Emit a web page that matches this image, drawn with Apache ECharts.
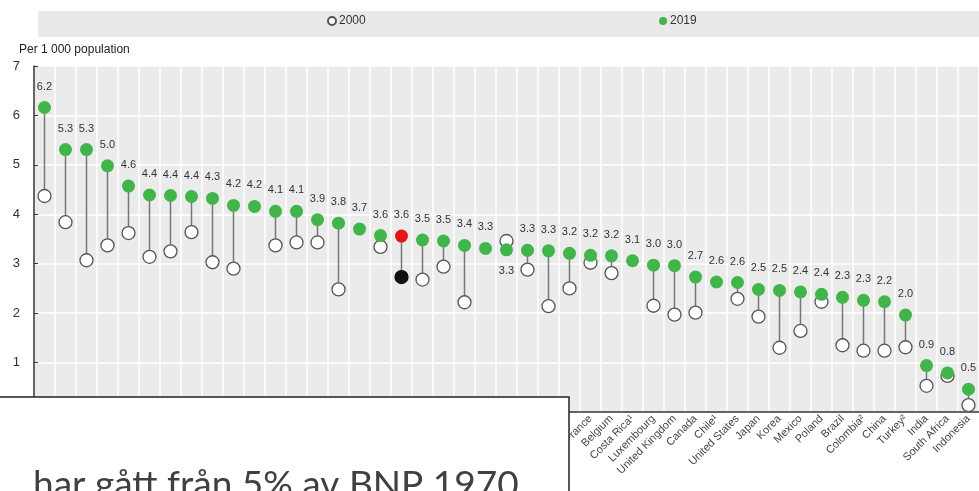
<!DOCTYPE html>
<html>
<head>
<meta charset="utf-8">
<script src="https://cdn.jsdelivr.net/npm/echarts@6/dist/echarts.min.js"></script>
<style>
  html, body { margin: 0; padding: 0; background: #fff; }
  #main { width: 979px; height: 491px; }
</style>
</head>
<body>
<div id="main"></div>
<script>
// länder (de flesta döljs under textrutan nere till vänster)
const countries = [
  'Greece¹', 'Portugal¹', 'Austria', 'Norway', 'Lithuania', 'Spain', 'Germany', 'Switzerland',
  'Sweden', 'Denmark', 'Russia', 'Czech Republic', 'Italy', 'Iceland', 'Australia', 'Latvia',
  'Israel', 'OECD36', 'Estonia', 'Finland', 'Ireland', 'Slovenia', 'Hungary', 'New Zealand',
  'Slovak Republic', 'Netherlands²', 'France', 'Belgium', 'Costa Rica¹', 'Luxembourg',
  'United Kingdom', 'Canada', 'Chile¹', 'United States', 'Japan', 'Korea', 'Mexico', 'Poland',
  'Brazil', 'Colombia²', 'China', 'Turkey²', 'India', 'South Africa', 'Indonesia'
]
const v2019 = [
  6.16, 5.31, 5.31, 4.98, 4.57, 4.39, 4.38, 4.36, 4.32, 4.18, 4.16, 4.06, 4.06, 3.89, 3.82,
  3.70, 3.57, 3.56, 3.48, 3.46, 3.37, 3.31, 3.28, 3.27, 3.26, 3.21, 3.17, 3.16, 3.06, 2.97,
  2.96, 2.73, 2.63, 2.62, 2.48, 2.46, 2.43, 2.38, 2.32, 2.26, 2.23, 1.96, 0.94, 0.79, 0.46
]
const v2000 = [
  4.37, 3.84, 3.07, 3.37, 3.62, 3.14, 3.25, 3.64, 3.03, 2.90, null, 3.37, 3.43, 3.43, 2.48,
  null, 3.34, 2.73, 2.68, 2.94, 2.22, null, 3.46, 2.88, 2.14, 2.50, 3.02, 2.81, null, 2.15,
  1.97, 2.01, null, 2.29, 1.93, 1.30, 1.64, 2.23, 1.35, 1.24, 1.24, 1.31, 0.53, 0.73, 0.14
]
const yTicks = [0, 1, 2, 3, 4, 5, 6, 7]
const oecdIndex = countries.indexOf('OECD36')
const labelBelow = [22] // 2000-värdet ligger ovanför

const green = '#41b54a'

const chart = echarts.init(document.getElementById('main'))

// stjälkar mellan 2000 och 2019
const stems = []
v2000.forEach((v, i) => {
  if (v != null) stems.push([i, v, v2019[i]])
})

const data2000 = v2000.map((v, i) => {
  if (i === oecdIndex) return { value: v, itemStyle: { color: '#111', borderColor: '#111' } }
  return v
})
const data2019 = v2019.map((v, i) => {
  const item = { value: v }
  if (i === oecdIndex) item.itemStyle = { color: '#e3151b' }
  if (labelBelow.includes(i)) item.label = { position: 'bottom' }
  return item
})

chart.setOption({
  animation: false,
  textStyle: { fontFamily: 'Liberation Sans, Arial, sans-serif' },
  grid: {
    left: 34, right: -6, top: 66, bottom: 79,
    show: true, backgroundColor: '#ebebeb', borderWidth: 0
  },
  legend: [
    {
      data: ['2000'], left: 327, top: 15, padding: 0, icon: 'circle',
      itemWidth: 8, itemHeight: 8, itemGap: 3,
      textStyle: { fontSize: 12, color: '#333', padding: [0, 0, 0, -2] }
    },
    {
      data: ['2019'], left: 659, top: 15, padding: 0, icon: 'circle',
      itemWidth: 8, itemHeight: 8, itemGap: 3,
      textStyle: { fontSize: 12, color: '#333', padding: [0, 0, 0, -2] }
    }
  ],
  graphic: [
    { type: 'rect', z: -10, shape: { x: 38, y: 11, width: 960, height: 26 }, style: { fill: '#e9e9e9' } },
    { type: 'text', x: 19, y: 50, style: { text: 'Per 1 000 population', fontSize: 12, fill: '#222', verticalAlign: 'middle', fontFamily: 'Liberation Sans, Arial' } },
    // textruta som ligger över diagrammet
    { type: 'rect', z: 100, zlevel: 1, shape: { x: -2, y: 397, width: 571, height: 100 }, style: { fill: '#fff', stroke: '#222', lineWidth: 1.5 } },
    { type: 'text', z: 101, zlevel: 1, x: 33, y: 504, style: { text: 'har gått från 5% av BNP 1970', fontSize: 37, fill: '#404040', verticalAlign: 'bottom', fontFamily: 'Lato' } }
  ],
  xAxis: {
    type: 'category',
    data: countries,
    boundaryGap: true,
    axisLine: { lineStyle: { color: '#333', width: 1.5 } },
    axisTick: { length: 4, lineStyle: { color: '#333' } },
    axisLabel: { interval: 0, rotate: 45, fontSize: 11, color: '#444', margin: 5 },
    splitLine: { show: true, interval: 0, lineStyle: { color: '#fff', width: 1.5 } }
  },
  yAxis: {
    type: 'value',
    min: yTicks[0], max: yTicks[yTicks.length - 1], interval: 1,
    axisLine: { show: true, lineStyle: { color: '#333', width: 1.5 } },
    axisTick: { show: true, inside: true, length: 4, lineStyle: { color: '#333' } },
    axisLabel: { fontSize: 13, color: '#333', margin: 14 },
    splitLine: { lineStyle: { color: '#fff', width: 1.5 } }
  },
  series: [
    {
      name: 'stems',
      type: 'custom',
      data: stems,
      encode: { x: 0, y: [1, 2] },
      z: 1,
      renderItem: function (params, api) {
        const p1 = api.coord([api.value(0), api.value(1)])
        const p2 = api.coord([api.value(0), api.value(2)])
        return {
          type: 'line',
          shape: { x1: p1[0], y1: p1[1], x2: p2[0], y2: p2[1] },
          style: { stroke: '#777', lineWidth: 1.5 }
        }
      }
    },
    {
      name: '2000',
      type: 'scatter',
      data: data2000,
      symbolSize: 13,
      z: 2,
      itemStyle: { color: '#fff', borderColor: '#555', borderWidth: 1.3, opacity: 1 }
    },
    {
      name: '2019',
      type: 'scatter',
      data: data2019,
      symbolSize: 13,
      z: 3,
      itemStyle: { color: green, opacity: 1 },
      label: {
        show: true, position: 'top', distance: 9, fontSize: 11, color: '#333',
        formatter: p => p.value.toFixed(1)
      }
    }
  ]
})
</script>
</body>
</html>
